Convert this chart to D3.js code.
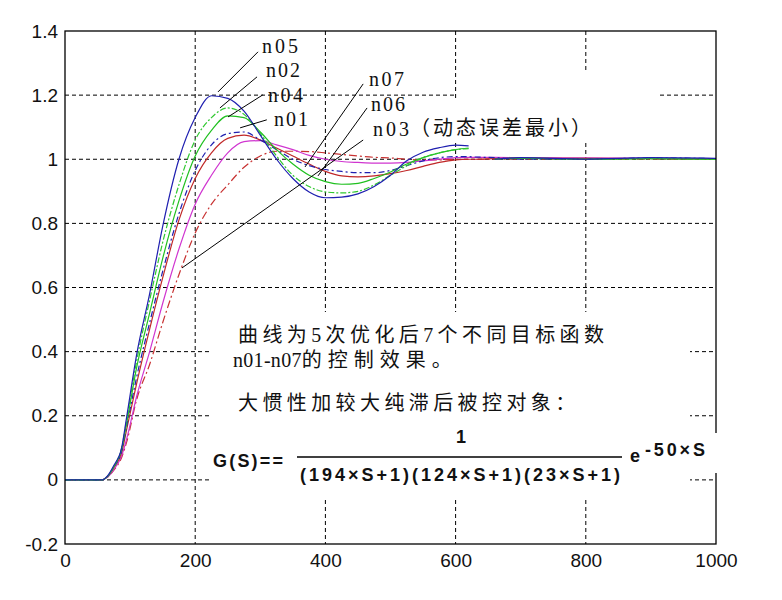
<!DOCTYPE html>
<html><head><meta charset="utf-8">
<script src="https://cdn.jsdelivr.net/npm/d3@7"></script>
<style>body{margin:0;background:#fff}</style>
</head><body><svg id="c" width="782" height="600"></svg>
<script>
// time axis (common sample points)
const t = [0,57,65,75,87,95,110,130,150,175,200,225,250,275,300,325,350,375,400,425,450,475,500,525,550,575,600,620,630,660,700,800,900,1000];
// series values (null = gap)
const n05 = [0,0,0.012,0.045,0.10,0.20,0.39,0.58,0.79,1.0,1.13,1.198,1.19,1.15,1.075,1.0,0.94,0.898,0.88,0.882,0.892,0.915,0.95,0.995,1.022,1.036,1.044,1.042,null,1.0,1.005,1.0,1.005,1.003];
const n02 = [0,0,0.01,0.042,0.10,0.19,0.37,0.56,0.74,0.92,1.06,1.13,1.16,1.14,1.08,1.01,0.95,0.915,0.898,0.895,0.90,0.92,0.95,0.98,1.005,1.02,1.03,1.033,null,1.0,1.004,1.0,1.002,1.0];
const n04 = [0,0,0.01,0.04,0.095,0.18,0.35,0.52,0.69,0.87,1.01,1.09,1.135,1.13,1.085,1.03,0.985,0.95,0.93,0.922,0.925,0.94,0.96,0.985,1.005,1.02,1.03,1.035,null,1.0,1.003,1.0,1.002,1.0];
const n01 = [0,0,0.01,0.04,0.09,0.17,0.32,0.49,0.65,0.83,0.965,1.045,1.08,1.085,1.06,1.03,1.0,0.98,0.968,0.962,0.958,0.958,0.965,0.98,0.995,1.005,1.008,1.008,1.007,1.005,1.0,1.0,1.004,1.002];
const n07 = [0,0,0.01,0.038,0.085,0.16,0.30,0.47,0.63,0.81,0.94,1.02,1.065,1.075,1.06,1.035,1.01,0.985,0.962,0.948,0.945,0.948,0.955,0.965,0.978,0.99,0.998,1.0,1.0,1.002,1.003,1.003,1.002,1.0];
const n06 = [0,0,0.008,0.032,0.075,0.13,0.26,0.40,0.55,0.72,0.86,0.95,1.02,1.055,1.058,1.045,1.03,1.012,1.0,0.993,0.99,0.988,0.988,0.99,0.995,1.0,1.005,1.006,1.006,1.006,1.005,1.004,1.003,1.002];
const n03 = [0,0,0.008,0.03,0.07,0.12,0.25,0.36,0.49,0.64,0.77,0.86,0.92,0.975,1.01,1.025,1.025,1.024,1.02,1.015,1.01,1.006,1.004,1.0,0.998,0.998,1.0,1.0,1.0,1.0,1.0,1.0,1.0,1.0];

const seriesNames = ["n03","n06","n07","n01","n04","n02","n05"];
const seriesValues = [n03,n06,n07,n01,n04,n02,n05];
const seriesColors = ["#c83232","#d035d0","#c02828","#2020b0","#20c020","#30c830","#1f1fb0"];
const seriesDash = ["8,3,2,3",null,null,"6,3,2,3",null,"6,2,2,2",null];

const xTicks = [0,200,400,600,800,1000];
const yTicks = [-0.2,0,0.2,0.4,0.6,0.8,1.0,1.2,1.4];
const yTickLabels = ["-0.2","0","0.2","0.4","0.6","0.8","1","1.2","1.4"];

// annotation labels and leaders, in data units
const labelNames = ["n05","n02","n04","n01","n07","n06","n03"];
const labelPos = [[302.6,1.332],[308.8,1.257],[311.8,1.179],[321,1.104],[467,1.229],[470,1.151],[473,1.073]];
const leaderFrom = [[296.5,1.335],[295,1.257],[304,1.201],[310,1.123],[458,1.235],[464,1.160],[458,1.060]];
const leaderTo = [[235,1.210],[238,1.160],[250.4,1.132],[269,1.098],[368.7,0.976],[388.6,0.948],[179.7,0.661]];
const labelLen = [36,34,35,34,35,34,36];

const svg = d3.select("#c");
const L=65,R=716,T=31,B=544;
const x = d3.scaleLinear().domain([0,1000]).range([L,R]);
const y = d3.scaleLinear().domain([-0.2,1.4]).range([B,T]);

// grid
const g = svg.append("g");
g.selectAll("line.vx").data(xTicks.slice(1,-1)).join("line")
 .attr("x1",d=>x(d)).attr("x2",d=>x(d)).attr("y1",T).attr("y2",B)
 .attr("stroke","#000").attr("stroke-dasharray","4,3");
g.selectAll("line.hy").data(yTicks.slice(1,-1)).join("line")
 .attr("y1",d=>y(d)).attr("y2",d=>y(d)).attr("x1",L).attr("x2",R)
 .attr("stroke","#000").attr("stroke-dasharray","4,3");

// white text backgrounds
const bg=[[209,312,481,188],[600,432,125,42],[457,72,200,71],[410,100,190,43]];
svg.selectAll("rect.bg").data(bg).join("rect").attr("x",d=>d[0]).attr("y",d=>d[1]).attr("width",d=>d[2]).attr("height",d=>d[3]).attr("fill","#fff");

// curves
const line = d3.line().defined(d=>d[1]!=null).x(d=>x(d[0])).y(d=>y(d[1])).curve(d3.curveMonotoneX);
seriesValues.forEach((v,i)=>{
  svg.append("path").datum(t.map((tt,j)=>[tt,v[j]]))
   .attr("d",line).attr("fill","none").attr("stroke",seriesColors[i]).attr("stroke-width",1.2)
   .attr("stroke-dasharray",seriesDash[i]);
});

// frame
svg.append("rect").attr("x",L).attr("y",T).attr("width",R-L).attr("height",B-T).attr("fill","none").attr("stroke","#000").attr("stroke-width",1.3);
svg.append("rect").attr("x",700).attr("y",433).attr("width",25).attr("height",40).attr("fill","#fff");

// axes labels
const xa = svg.append("g").attr("transform",`translate(0,${B})`).call(d3.axisBottom(x).tickValues(xTicks).tickSize(0).tickPadding(10).tickFormat(d3.format("d")));
const ya = svg.append("g").attr("transform",`translate(${L},0)`).call(d3.axisLeft(y).tickValues(yTicks).tickSize(0).tickPadding(7).tickFormat((d,i)=>yTickLabels[i]));
[xa,ya].forEach(a=>{a.select(".domain").remove();a.selectAll("text").attr("font-family","Liberation Sans, Arial, sans-serif").attr("font-size",19).attr("fill","#111");});

// leaders
svg.selectAll("line.ld").data(labelNames).join("line")
 .attr("x1",(d,i)=>x(leaderFrom[i][0])).attr("y1",(d,i)=>y(leaderFrom[i][1]))
 .attr("x2",(d,i)=>x(leaderTo[i][0])).attr("y2",(d,i)=>y(leaderTo[i][1]))
 .attr("stroke","#000").attr("stroke-width",1);
svg.selectAll("text.lb").data(labelNames).join("text")
 .attr("x",(d,i)=>x(labelPos[i][0])).attr("y",(d,i)=>y(labelPos[i][1]))
 .attr("textLength",(d,i)=>labelLen[i]).attr("lengthAdjust","spacing")
 .attr("font-family","Liberation Serif, Times New Roman, serif").attr("font-size",20).attr("fill","#111").text(d=>d);

const cjk = "Liberation Serif, Noto Sans CJK SC, sans-serif";
function rich(parts,x0,y0){
  const e=svg.append("text").attr("x",x0).attr("y",y0).attr("font-size",20).attr("font-family",cjk).attr("fill","#111");
  parts.forEach(p=>e.append("tspan").attr("letter-spacing",p[1]).text(p[0]));
  return e;
}
rich([["（动态误差最小）",3]],410,135);
rich([["曲线为5次优化后7个不同目标函数",4.4]],238,342);
rich([["n01-n07",0.3],["的控制效果。",6]],233,367);
rich([["大惯性加较大纯滞后被控对象：",4.4]],238,410);

const fm="Liberation Sans, Arial, sans-serif";
function txt(s,x0,y0,len,anchor){
  const e=svg.append("text").attr("x",x0).attr("y",y0).attr("font-size",18).attr("font-family",fm).attr("font-weight","bold").attr("fill","#111").text(s);
  if(len) e.attr("textLength",len).attr("lengthAdjust","spacing");
  if(anchor) e.attr("text-anchor",anchor);
  return e;
}
txt("G(S)==",213,467,70);
txt("1",461,443,null,"middle");
svg.append("line").attr("x1",297).attr("x2",622).attr("y1",457).attr("y2",457).attr("stroke","#000").attr("stroke-width",1.5);
txt("(194×S+1)(124×S+1)(23×S+1)",300,481,320);
txt("e",630,462);
txt("-50×S",645,456,60);
</script></body></html>
